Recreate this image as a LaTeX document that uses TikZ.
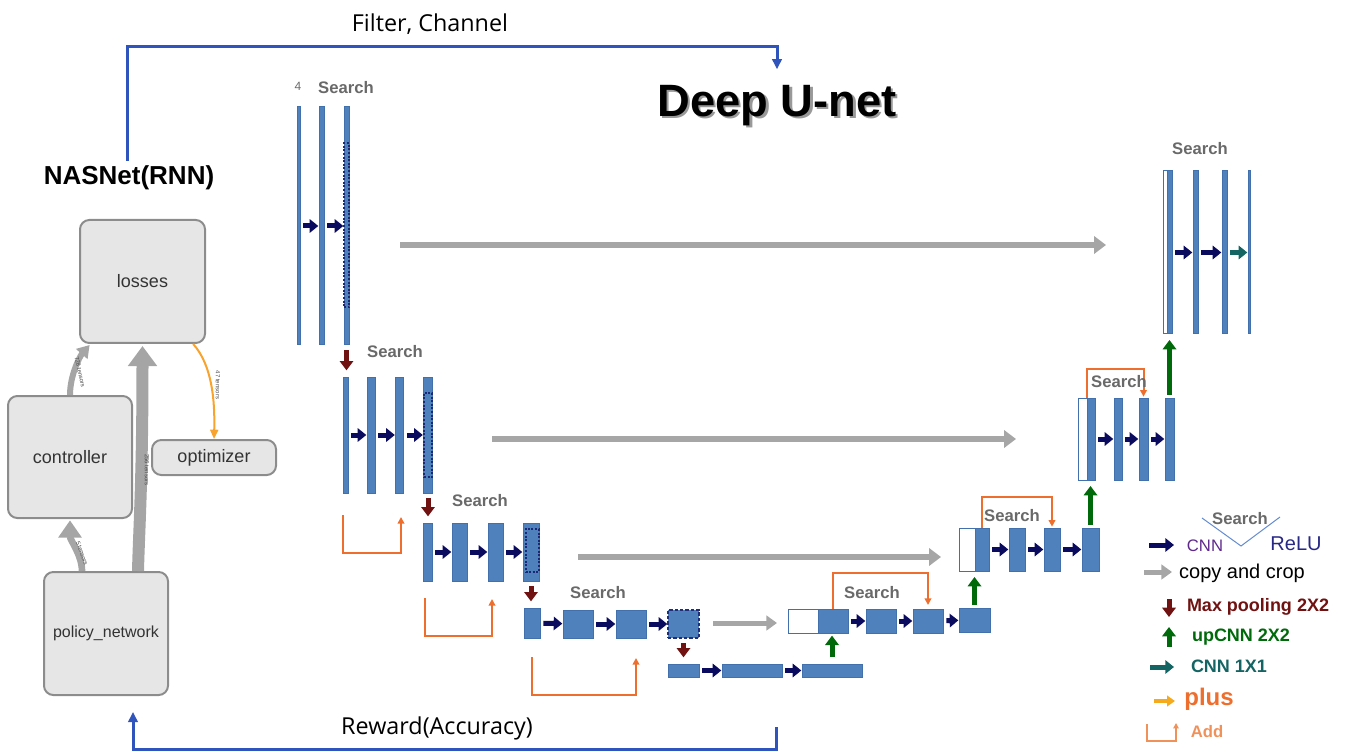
\documentclass[tikz,border=0pt]{standalone}
\usepackage{fontspec}
\setmainfont{Liberation Sans}
\newfontfamily\uifont{Open Sans}
\usetikzlibrary{arrows.meta}

\definecolor{unetfill}{RGB}{79,129,189}
\definecolor{unetedge}{RGB}{65,112,172}
\definecolor{cnnnavy}{RGB}{10,10,95}
\definecolor{poolred}{RGB}{112,18,18}
\definecolor{upgreen}{RGB}{0,105,10}
\definecolor{oneteal}{RGB}{20,100,100}
\definecolor{copygray}{RGB}{166,166,166}
\definecolor{addorange}{RGB}{237,110,45}
\definecolor{addlight}{RGB}{240,145,90}
\definecolor{ctrlblue}{RGB}{47,84,187}
\definecolor{tffill}{RGB}{230,230,230}
\definecolor{tfedge}{RGB}{140,140,140}
\definecolor{tfarrow}{RGB}{165,165,165}
\definecolor{optorange}{RGB}{247,163,45}
\definecolor{searchgray}{RGB}{105,105,105}
\definecolor{cnnpurple}{RGB}{95,40,140}
\definecolor{reluna}{RGB}{40,40,135}
\definecolor{plusyellow}{RGB}{245,170,30}
\definecolor{vblue}{RGB}{100,140,210}

\tikzset{every picture/.style={line width=0.75pt}}
\tikzset{
	unetbox/.style 2 args={draw=unetedge, fill=unetfill, line width=0.75pt, inner sep=0pt, outer sep=0pt,
		minimum width=#1*0.75pt, minimum height=#2*0.75pt},
	cropbox/.style 2 args={unetbox={#1}{#2}, fill=white},
	searchcell/.style 2 args={draw=cnnnavy!75!unetfill, dash pattern=on 1.5pt off 1.2pt, line width=1.5pt,
		inner sep=0pt, minimum width=#1*0.75pt, minimum height=#2*0.75pt},
	searchdash/.style 2 args={unetbox={#1}{#2}, draw=cnnnavy!70!unetfill, dash pattern=on 2.5pt off 1.5pt, line width=1.2pt},
	cnn/.style={draw=cnnnavy, line width=3.75pt, -{Triangle[length=6.5pt,width=10pt]}, shorten <=2.5pt, shorten >=0.5pt},
	onebyone/.style={cnn, draw=oneteal},
	copycrop/.style={draw=copygray, line width=4.5pt, -{Triangle[length=9pt,width=13pt]}},
	pool/.style={draw=poolred, line width=3.75pt, -{Triangle[length=7pt,width=10pt]}, shorten <=4pt, shorten >=5pt},
	upcnn/.style={draw=upgreen, line width=3.75pt, -{Triangle[length=7pt,width=10pt]}, shorten <=5pt, shorten >=2pt},
	addline/.style={draw=addorange, line width=1.5pt, -{Triangle[length=5pt,width=5pt]}},
	ctrl/.style={draw=ctrlblue, line width=2.25pt, -{Triangle[length=7.5pt,width=7pt]}},
	tensor/.style={draw=tfarrow},
	tensorlbl/.style={font=\fontsize{4.5}{5}\selectfont, text=black!70, inner sep=0pt},
	tfbox/.style 2 args={draw=tfedge, fill=tffill, rounded corners=7pt, line width=1.5pt, inner sep=0pt,
		minimum width=#1*0.75pt, minimum height=#2*0.75pt, text=black!80, font=\fontsize{13.5}{15}\selectfont},
	searchlbl/.style={text=searchgray, font=\bfseries\fontsize{12.5}{14}\selectfont, inner sep=0pt}
}

\begin{document}
\begin{tikzpicture}[x=0.75pt,y=0.75pt,yscale=-1,xscale=1]
	\useasboundingbox (0,0) rectangle (1346,752);

	%Shape: NASNet graph
	\node[tfbox={125}{123}] (losses) at (142.5,281.5) {losses};
	\node[tfbox={124}{122}] (controller) at (70,457) {controller};
	\node[tfbox={124}{35}] (optimizer) at (214,457.5) {optimizer};
	\node[tfbox={124}{123}, font=\fontsize{12}{14}\selectfont] (policy) at (106,633.5) {policy\_network};

	%Curve Lines
	\draw[tensor, line width=9pt, -{Triangle[length=15pt,width=21pt]}, shorten >=1.5pt] ([xshift=24pt]policy.north) .. controls (139,530) and (142.5,480) .. (losses.south);
	\draw[tensor, line width=4.5pt, -{Triangle[length=9pt,width=11pt]}, shorten >=1pt] (controller.north) .. controls (70,375) and (80,356) .. ([xshift=-39pt]losses.south);
	\draw[tensor, line width=5pt, -{Triangle[length=13pt,width=17pt]}, shorten >=1pt] ([xshift=-18pt]policy.north) .. controls (82,555) and (70,540) .. (controller.south);
	\draw[draw=optorange, line width=1.5pt, -{Triangle[length=7pt,width=6pt]}] ([xshift=38pt]losses.south) .. controls (212,365) and (215,400) .. (optimizer.north);

	% Text Node
	\node[tensorlbl, rotate=-78] (t728) at (80,372) {728 tensors};
	\node[tensorlbl, rotate=-90] (t256) at (147,470) {256 tensors};
	\node[tensorlbl, rotate=-90] (t47) at (218,385) {47 tensors};
	\node[tensorlbl, rotate=-70] (t5) at (82,553) {5 tensors};

	% Text Node
	\node[font=\bfseries\fontsize{19.5}{22}\selectfont] (nasnet) at (129,178) {NASNet(RNN)};
	\node[font=\bfseries\fontsize{34}{38}\selectfont, inner sep=0pt, text=black!40] (titleshadow) at (779.5,108) {Deep U-net};
	\node[font=\bfseries\fontsize{34}{38}\selectfont, inner sep=0pt] (title) at (777,105.5) {Deep U-net};
	\node[font=\uifont\fontsize{17.5}{20}\selectfont] (filter) at (430,24) {Filter, Channel};
	\node[font=\uifont\fontsize{17.5}{20}\selectfont] (reward) at (437,728) {Reward(Accuracy)};

	%Straight Lines
	\draw[ctrl, shorten >=11.6pt] ([xshift=-1.5pt]nasnet.north) -- ++(0,-114) -| (title.north);
	\coordinate (rewardsrc) at (776,727);
	\draw[ctrl, shorten >=12pt] (rewardsrc) -- (776,749) -| ([xshift=20.25pt]policy.south);

	%Level 1 encoder
	\node[unetbox={3}{238}] (e1a) at (298.5,226) {};
	\node[unetbox={5}{238}] (e1b) at (321.5,226) {};
	\node[unetbox={5}{238}] (e1c) at (346.5,226) {};
	\node[searchcell={5}{164}] (e1s) at (346.5,225.5) {};
	\draw[cnn] (e1a) -- (e1b);
	\draw[cnn] (e1b) -- (e1c);
	\node[text=searchgray, font=\fontsize{9}{10}\selectfont] (four) at (298,86) {4};
	\node[searchlbl] (s1) at (346,88) {Search};
	\coordinate (c1a) at (400,245);
	\coordinate (c1b) at (1106,245);
	\draw[copycrop] (c1a) -- (c1b);

	%Level 2 encoder
	\node[unetbox={5}{116}] (e2a) at (345.5,435) {};
	\node[unetbox={8}{116}] (e2b) at (371,435) {};
	\node[unetbox={8}{116}] (e2c) at (399.5,435) {};
	\node[unetbox={9}{116}] (e2d) at (428,435) {};
	\node[searchcell={8}{84}] (e2s) at (428,435) {};
	\draw[pool] (e1c.south) -- (e1c.south |- e2a.north);
	\draw[cnn] (e2a) -- (e2b);
	\draw[cnn] (e2b) -- (e2c);
	\draw[cnn] (e2c) -- (e2d);
	\node[searchlbl] (s2) at (395,352) {Search};
	\draw[addline] (343,515) -- ++(0,38) -| (401,517);
	\coordinate (c2a) at (492,439);
	\coordinate (c2b) at (1016,439);
	\draw[copycrop] (c2a) -- (c2b);

	%Level 3 encoder
	\node[unetbox={9}{58}] (e3a) at (427.5,552) {};
	\node[unetbox={15}{58}] (e3b) at (459.5,552) {};
	\node[unetbox={15}{58}] (e3c) at (495.5,552) {};
	\node[unetbox={16}{58}] (e3d) at (531,552) {};
	\node[searchcell={13}{43}] (e3s) at (532,550.5) {};
	\draw[pool] (e2d.south) -- (e2d.south |- e3a.north);
	\draw[cnn] (e3a) -- (e3b);
	\draw[cnn] (e3b) -- (e3c);
	\draw[cnn] (e3c) -- (e3d);
	\node[searchlbl] (s3) at (480,501) {Search};
	\draw[addline] (425,598) -- ++(0,38) -| (492,599);
	\coordinate (c3a) at (578,557);
	\coordinate (c3b) at (941,557);
	\draw[copycrop] (c3a) -- (c3b);

	%Level 4 encoder
	\node[unetbox={16}{30}] (e4a) at (532,623) {};
	\node[unetbox={30}{28}] (e4b) at (578,624) {};
	\node[unetbox={30}{28}] (e4c) at (631,624) {};
	\node[searchdash={31}{28}] (e4d) at (683.5,624) {};
	\draw[pool] (e3d.south) -- (e3d.south |- e4a.north);
	\draw[cnn] (e4a) -- (e4b);
	\draw[cnn] (e4b) -- (e4c);
	\draw[cnn] (e4c) -- (e4d);
	\node[searchlbl] (s4) at (598,593) {Search};
	\draw[addline] (532,657) -- ++(0,38) -| (636,658);
	\coordinate (c4a) at (713,623);
	\coordinate (c4b) at (777,623);
	\draw[copycrop, line width=3.75pt, -{Triangle[length=8pt,width=11pt]}] (c4a) -- (c4b);

	%Bottom level
	\node[unetbox={31}{13}] (b5a) at (683.5,670.5) {};
	\node[unetbox={60}{13}] (b5b) at (752,670.5) {};
	\node[unetbox={60}{13}] (b5c) at (832,670.5) {};
	\draw[pool] (e4d.south) -- (e4d.south |- b5a.north);
	\draw[cnn] (b5a) -- (b5b);
	\draw[cnn] (b5b) -- (b5c);

	%Level 4 decoder
	\node[cropbox={30}{24}] (d4w) at (803,621) {};
	\node[unetbox={30}{24}] (d4a) at (833,621) {};
	\node[unetbox={30}{24}] (d4b) at (881,621) {};
	\node[unetbox={30}{24}] (d4c) at (928,621) {};
	\node[unetbox={31}{24}] (d4d) at (974.5,620) {};
	\draw[upcnn] (b5c.north) -- (b5c.north |- d4a.south);
	\draw[cnn] (d4a) -- (d4b);
	\draw[cnn] (d4b) -- (d4c);
	\draw[cnn] (d4c) -- (d4d);
	\draw[addline, shorten >=3pt] (d4a.north) -- ++(0,-36) -| (d4c.north);
	\node[searchlbl] (s5) at (872,593) {Search};

	%Level 3 decoder
	\node[cropbox={16}{43}] (d3w) at (967,549.5) {};
	\node[unetbox={14}{43}] (d3a) at (982,549.5) {};
	\node[unetbox={16}{43}] (d3b) at (1017,549.5) {};
	\node[unetbox={16}{43}] (d3c) at (1052,549.5) {};
	\node[unetbox={17}{43}] (d3d) at (1090.5,549.5) {};
	\draw[upcnn, shorten <=2.25pt, shorten >=4.5pt] (d4d.north) -- (d4d.north |- d3a.south);
	\draw[cnn] (d3a) -- (d3b);
	\draw[cnn] (d3b) -- (d3c);
	\draw[cnn] (d3c) -- (d3d);
	\draw[addline, shorten >=1pt] (d3a.north) -- ++(0,-31) -| (d3c.north);
	\node[searchlbl] (s6) at (1012,516) {Search};

	%Level 2 decoder
	\node[cropbox={9}{82}] (d2w) at (1082.5,439) {};
	\node[unetbox={8}{82}] (d2a) at (1091,439) {};
	\node[unetbox={8}{82}] (d2b) at (1118,439) {};
	\node[unetbox={9}{82}] (d2c) at (1143.5,439) {};
	\node[unetbox={9}{82}] (d2d) at (1169.5,439) {};
	\draw[upcnn, shorten <=2.25pt, shorten >=4.5pt] (d3d.north) -- (d3d.north |- d2a.south);
	\draw[cnn] (d2a) -- (d2b);
	\draw[cnn] (d2b) -- (d2c);
	\draw[cnn] (d2c) -- (d2d);
	\draw[addline, shorten >=1pt] ([xshift=-3pt]d2a.north) -- ++(0,-29) -| (d2c.north);
	\node[searchlbl] (s7) at (1119,382) {Search};

	%Level 1 decoder
	\node[cropbox={4}{163}] (d1w) at (1165,252.5) {};
	\node[unetbox={5}{163}] (d1a) at (1169.5,252.5) {};
	\node[unetbox={5}{163}] (d1b) at (1195.5,252.5) {};
	\node[unetbox={5}{163}] (d1c) at (1224.5,252.5) {};
	\node[unetbox={2}{163}] (d1d) at (1249,252.5) {};
	\draw[upcnn, shorten <=2.25pt, shorten >=4.5pt] (d2d.north) -- (d2d.north |- d1a.south);
	\draw[cnn] (d1a) -- (d1b);
	\draw[cnn] (d1b) -- (d1c);
	\draw[onebyone] (d1c) -- (d1d);
	\node[searchlbl] (s8) at (1200,149) {Search};

	%Legend
	\node[searchlbl] (lgsearch) at (1240,519) {Search};
	\draw[vblue] (1202,518) -- (1241,546) -- (1280,517);
	\draw[cnn, shorten <=0pt, shorten >=0pt] (1149,545) -- (1174,545);
	\node[text=cnnpurple, font=\fontsize{12.5}{14}\selectfont] (lgcnn) at (1205,546) {CNN};
	\node[text=reluna, font=\fontsize{15}{17}\selectfont] (lgrelu) at (1296,544) {ReLU};
	\draw[copycrop, line width=3.75pt, -{Triangle[length=8pt,width=11pt]}] (1144,572) -- (1172,572);
	\node[font=\fontsize{15}{17}\selectfont] (lgcopy) at (1242,573) {copy and crop};
	\draw[pool, shorten <=0pt, shorten >=0pt] (1169,599) -- (1169,617);
	\node[text=poolred, font=\bfseries\fontsize{13.5}{15}\selectfont] (lgpool) at (1258,607) {Max pooling 2X2};
	\draw[upcnn, shorten <=0pt, shorten >=0pt] (1169,647) -- (1169,627);
	\node[text=upgreen, font=\bfseries\fontsize{13.5}{15}\selectfont] (lgup) at (1241,637) {upCNN 2X2};
	\draw[onebyone, shorten <=0pt, shorten >=0pt] (1150,667) -- (1174,667);
	\node[text=oneteal, font=\bfseries\fontsize{13.5}{15}\selectfont] (lgone) at (1229,666) {CNN 1X1};
	\draw[draw=plusyellow, line width=3pt, -{Triangle[length=6pt,width=8pt]}] (1154,701) -- (1175,701);
	\node[text=addorange, font=\bfseries\fontsize{18}{20}\selectfont] (lgplus) at (1209,699) {plus};
	\draw[draw=addlight, line width=1.2pt, -{Triangle[length=4pt,width=4pt]}] (1147,724) -- (1147,741) -- (1176,741) -- (1176,723);
	\node[text=addlight, font=\bfseries\fontsize{12.5}{14}\selectfont] (lgadd) at (1207,732) {Add};

\end{tikzpicture}
\end{document}
